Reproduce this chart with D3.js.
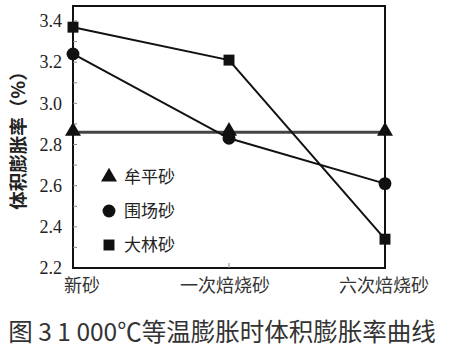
<!DOCTYPE html>
<html><head><meta charset="utf-8">
<script src="https://cdn.jsdelivr.net/npm/d3@7"></script>
<style>body{margin:0;background:#fff;}svg{display:block;}</style>
</head><body>
<script>
const categories = ["新砂", "一次焙烧砂", "六次焙烧砂"];
const seriesNames = ["牟平砂", "围场砂", "大林砂"];
const muping = [2.86, 2.86, 2.86];
const weichang = [3.24, 2.83, 2.61];
const dalin = [3.37, 3.21, 2.34];
const yTicks = [2.2, 2.4, 2.6, 2.8, 3.0, 3.2, 3.4];
const yTitle = "体积膨胀率（%）";
const caption = "图 3 1 000℃等温膨胀时体积膨胀率曲线";

(function(){
const W = 451, H = 352;
const pL = 73, pR = 385, pT = 6, pB = 268;
const svg = d3.select("body").append("svg").attr("width", W).attr("height", H);

const x = d3.scalePoint().domain(categories).range([pL, pR]);
const y = d3.scaleLinear().domain([2.2, 3.4]).range([pB, 21]);

svg.append("rect").attr("x", pL).attr("y", pT).attr("width", pR-pL).attr("height", pB-pT)
  .attr("fill", "none").attr("stroke", "#111").attr("stroke-width", 2);

const minor = d3.range(23, 35).map(v => v/10);
svg.selectAll(".mt").data(minor).enter().append("line")
  .attr("x1", pL).attr("x2", pL+4).attr("y1", d=>y(d)).attr("y2", d=>y(d))
  .attr("stroke", "#888").attr("stroke-width", 1);
svg.append("line").attr("x1", x(categories[1])).attr("x2", x(categories[1]))
  .attr("y1", pB).attr("y2", pB-5).attr("stroke", "#888");

svg.selectAll(".yl").data(yTicks).enter().append("text")
  .attr("x", 62).attr("y", d=>y(d)).attr("dy", "0.35em").attr("text-anchor", "end")
  .attr("font-family", "Liberation Serif, serif").attr("font-size", 18).attr("fill", "#222")
  .text(d=>d.toFixed(1));

const xOff = [82, 225, 384];
svg.selectAll(".xl").data(categories).enter().append("text")
  .attr("x", (d,i)=> xOff[i]).attr("y", 292).attr("text-anchor", "middle")
  .attr("font-family", "Noto Sans CJK SC").attr("font-size", 18).attr("fill", "#333")
  .text(d=>d);

svg.append("text").attr("transform", "translate(25,136) rotate(-90)")
  .attr("text-anchor", "middle").attr("font-family", "Noto Sans CJK SC").attr("font-size", 18.5)
  .attr("font-weight", "bold").attr("fill", "#222").text(yTitle);

const line = d3.line().x((d,i)=>x(categories[i])).y(d=>y(d));
svg.append("path").attr("d", line(muping)).attr("fill","none").attr("stroke","#444").attr("stroke-width",3);
svg.append("path").attr("d", line(weichang)).attr("fill","none").attr("stroke","#111").attr("stroke-width",2);
svg.append("path").attr("d", line(dalin)).attr("fill","none").attr("stroke","#111").attr("stroke-width",2);

const tri = d3.symbol().type(d3.symbolTriangle).size(110);
const cir = d3.symbol().type(d3.symbolCircle).size(130);
const sq = d3.symbol().type(d3.symbolSquare).size(120);

svg.selectAll(".t").data(muping).enter().append("path").attr("d", tri)
  .attr("transform", (d,i)=>`translate(${x(categories[i])},${y(d)-1})`).attr("fill","#111");
svg.selectAll(".c").data(weichang).enter().append("path").attr("d", cir)
  .attr("transform", (d,i)=>`translate(${x(categories[i])},${y(d)})`).attr("fill","#111");
svg.selectAll(".s").data(dalin).enter().append("path").attr("d", sq)
  .attr("transform", (d,i)=>`translate(${x(categories[i])},${y(d)})`).attr("fill","#111");

const legY = [177, 211, 245];
const syms = [tri, cir, sq];
seriesNames.forEach((n,i)=>{
  svg.append("path").attr("d", syms[i]).attr("transform", `translate(109,${legY[i]})`).attr("fill","#111");
  svg.append("text").attr("x", 124).attr("y", legY[i]).attr("dy","0.35em")
    .attr("font-family","Noto Sans CJK SC").attr("font-size",17).attr("fill","#222").text(n);
});

svg.append("text").attr("x", 222).attr("y", 341).attr("text-anchor","middle")
  .attr("font-family","Noto Sans CJK SC").attr("font-size",24.5).attr("fill","#333").text(caption);
})();
</script>
</body></html>
